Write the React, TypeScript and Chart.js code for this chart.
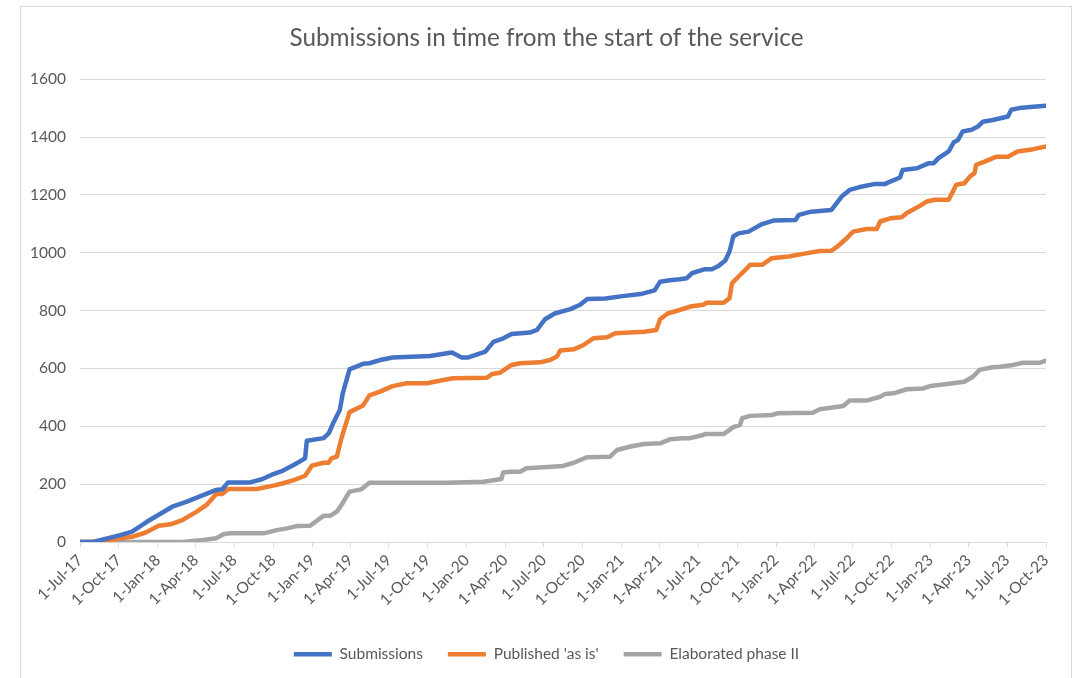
import React, { useEffect, useRef } from "react";
import { Chart, registerables } from "chart.js";

Chart.register(...registerables);

const titleText = "Submissions in time from the start of the service";

const tickLabels = [
  "1-Jul-17", "1-Oct-17", "1-Jan-18", "1-Apr-18", "1-Jul-18", "1-Oct-18", "1-Jan-19",
  "1-Apr-19", "1-Jul-19", "1-Oct-19", "1-Jan-20", "1-Apr-20", "1-Jul-20", "1-Oct-20",
  "1-Jan-21", "1-Apr-21", "1-Jul-21", "1-Oct-21", "1-Jan-22", "1-Apr-22", "1-Jul-22",
  "1-Oct-22", "1-Jan-23", "1-Apr-23", "1-Jul-23", "1-Oct-23",
];

const yTicks = [0, 200, 400, 600, 800, 1000, 1200, 1400, 1600];

const seriesNames = ["Submissions", "Published 'as is'", "Elaborated phase II"];

const submissionsDates = [
  "2017-07-01", "2017-08-01", "2017-10-04", "2017-11-01", "2017-12-06", "2018-02-04", "2018-03-09",
  "2018-05-19", "2018-06-02", "2018-06-16", "2018-08-07", "2018-09-04", "2018-10-01", "2018-10-24",
  "2018-11-18", "2018-12-15", "2018-12-19", "2019-01-28", "2019-02-09", "2019-02-21", "2019-03-07",
  "2019-03-14", "2019-03-30", "2019-05-01", "2019-05-16", "2019-06-10", "2019-07-10", "2019-10-06",
  "2019-11-27", "2019-12-20", "2020-01-05", "2020-02-14", "2020-03-04", "2020-03-23", "2020-04-16",
  "2020-05-29", "2020-06-15", "2020-07-04", "2020-07-27", "2020-09-02", "2020-09-25", "2020-10-12",
  "2020-11-24", "2021-01-03", "2021-02-15", "2021-03-20", "2021-04-02", "2021-04-25", "2021-05-18",
  "2021-06-04", "2021-06-16", "2021-07-17", "2021-08-02", "2021-08-18", "2021-09-03", "2021-09-13",
  "2021-09-22", "2021-10-04", "2021-10-28", "2021-11-29", "2021-12-26", "2022-02-16", "2022-02-24",
  "2022-03-25", "2022-05-12", "2022-06-05", "2022-06-24", "2022-07-18", "2022-08-23", "2022-09-16",
  "2022-09-28", "2022-10-21", "2022-10-27", "2022-11-30", "2022-12-27", "2023-01-08", "2023-01-20",
  "2023-02-13", "2023-02-25", "2023-03-07", "2023-03-18", "2023-04-08", "2023-04-23", "2023-05-05",
  "2023-05-28", "2023-07-03", "2023-07-11", "2023-07-30", "2023-09-01", "2023-10-01",
];
const submissionsValues = [
  0, 0, 24, 36, 70, 122, 139,
  180, 182, 206, 206, 217, 235, 247,
  266, 289, 350, 359, 376, 416, 456,
  514, 597, 616, 618, 629, 638, 643,
  655, 638, 638, 658, 692, 701, 719,
  724, 733, 770, 790, 805, 820, 840,
  842, 850, 857, 870, 900, 905, 908,
  912, 929, 943, 943, 954, 973, 1004,
  1056, 1067, 1073, 1099, 1111, 1113, 1131,
  1142, 1148, 1194, 1217, 1227, 1238, 1238,
  1246, 1260, 1286, 1292, 1309, 1309, 1327,
  1350, 1382, 1390, 1419, 1425, 1436, 1453,
  1459, 1471, 1494, 1500, 1505, 1508,
];

const publishedDates = [
  "2017-07-01", "2017-08-17", "2017-10-04", "2017-11-01", "2017-12-02", "2018-01-03", "2018-01-31",
  "2018-02-28", "2018-04-03", "2018-04-26", "2018-05-19", "2018-06-02", "2018-06-16", "2018-08-23",
  "2018-10-01", "2018-10-24", "2018-11-18", "2018-12-15", "2018-12-31", "2019-01-28", "2019-02-09",
  "2019-02-15", "2019-02-28", "2019-03-11", "2019-03-30", "2019-05-01", "2019-05-16", "2019-06-10",
  "2019-07-10", "2019-08-12", "2019-09-29", "2019-11-07", "2019-11-30", "2020-02-18", "2020-03-01",
  "2020-03-19", "2020-04-16", "2020-05-06", "2020-06-22", "2020-07-16", "2020-08-01", "2020-08-09",
  "2020-09-10", "2020-10-03", "2020-10-26", "2020-11-28", "2020-12-17", "2021-02-23", "2021-03-24",
  "2021-04-02", "2021-04-20", "2021-05-18", "2021-06-12", "2021-07-13", "2021-07-21", "2021-08-30",
  "2021-09-13", "2021-09-19", "2021-10-04", "2021-11-01", "2021-11-29", "2021-12-22", "2022-01-31",
  "2022-03-06", "2022-04-14", "2022-05-12", "2022-05-24", "2022-06-17", "2022-07-02", "2022-08-03",
  "2022-08-27", "2022-09-04", "2022-09-28", "2022-10-25", "2022-11-06", "2022-12-07", "2022-12-23",
  "2023-01-12", "2023-02-13", "2023-03-03", "2023-03-22", "2023-04-04", "2023-04-15", "2023-04-19",
  "2023-05-09", "2023-06-06", "2023-07-03", "2023-07-26", "2023-09-01", "2023-10-01",
];
const publishedValues = [
  0, 0, 13, 18, 32, 56, 61,
  76, 105, 128, 166, 166, 183, 183,
  195, 203, 214, 229, 264, 274, 274,
  289, 295, 359, 449, 472, 507, 520,
  539, 549, 549, 560, 566, 568, 581,
  585, 612, 618, 621, 629, 641, 662,
  666, 681, 704, 708, 722, 727, 733,
  770, 790, 802, 814, 820, 827, 827,
  843, 895, 917, 958, 958, 981, 987,
  996, 1006, 1007, 1019, 1050, 1073, 1082,
  1082, 1108, 1119, 1123, 1137, 1162, 1177,
  1183, 1183, 1235, 1240, 1263, 1275, 1304,
  1315, 1332, 1332, 1350, 1358, 1367,
];

const elaboratedDates = [
  "2017-07-01", "2018-03-01", "2018-04-18", "2018-05-19", "2018-06-05", "2018-06-20", "2018-09-08",
  "2018-10-09", "2018-11-02", "2018-11-25", "2018-12-27", "2019-01-28", "2019-02-13", "2019-02-28",
  "2019-03-11", "2019-03-30", "2019-04-27", "2019-05-16", "2019-11-15", "2020-02-10", "2020-03-23",
  "2020-03-27", "2020-04-12", "2020-05-06", "2020-05-21", "2020-06-30", "2020-08-16", "2020-09-10",
  "2020-10-11", "2020-12-05", "2020-12-21", "2021-01-22", "2021-02-23", "2021-04-02", "2021-04-25",
  "2021-05-26", "2021-06-12", "2021-07-13", "2021-07-17", "2021-08-30", "2021-09-22", "2021-10-08",
  "2021-10-13", "2021-11-01", "2021-12-22", "2022-01-04", "2022-03-29", "2022-04-14", "2022-06-09",
  "2022-06-24", "2022-08-03", "2022-09-04", "2022-09-16", "2022-10-05", "2022-11-06", "2022-12-15",
  "2022-12-31", "2023-02-09", "2023-03-22", "2023-04-12", "2023-04-27", "2023-05-28", "2023-06-14",
  "2023-07-15", "2023-08-08", "2023-09-17", "2023-10-01",
];
const elaboratedValues = [
  0, 0, 7, 13, 27, 30, 30,
  41, 47, 55, 56, 91, 91, 105,
  128, 174, 182, 205, 205, 208, 218,
  240, 243, 243, 255, 258, 263, 274,
  293, 295, 318, 330, 339, 341, 355,
  359, 359, 370, 373, 373, 397, 405,
  428, 436, 439, 445, 447, 459, 470,
  489, 489, 502, 512, 514, 528, 531,
  539, 546, 554, 572, 595, 604, 606,
  612, 620, 620, 627,
];

const seriesColors = ["#4472C4", "#ED7D31", "#A5A5A5"];

const MONTHS = ["Jan", "Feb", "Mar", "Apr", "May", "Jun", "Jul", "Aug", "Sep", "Oct", "Nov", "Dec"];
const START = Date.UTC(2017, 6, 1);
const isoToDay = (s: string) => {
  const [y, m, d] = s.split("-").map(Number);
  return (Date.UTC(y, m - 1, d) - START) / 86400000;
};
const labelToDay = (s: string) => {
  const [d, mon, yy] = s.split("-");
  return (Date.UTC(2000 + Number(yy), MONTHS.indexOf(mon), Number(d)) - START) / 86400000;
};
const toPoints = (dates: string[], values: number[]) =>
  dates.map((d, i) => ({ x: isoToDay(d), y: values[i] }));

const FONT = "Lato, 'Noto Sans', sans-serif";
const TEXT = "#595959";
const GRID = "#d9d9d9";

export default function App() {
  const ref = useRef<HTMLCanvasElement | null>(null);

  useEffect(() => {
    if (!ref.current) return;
    const seriesData = [
      toPoints(submissionsDates, submissionsValues),
      toPoints(publishedDates, publishedValues),
      toPoints(elaboratedDates, elaboratedValues),
    ];
    const tickDays = tickLabels.map(labelToDay);
    const chart = new Chart(ref.current, {
      type: "line",
      data: {
        datasets: seriesNames.map((name, i) => ({
          label: name,
          data: seriesData[i],
          borderColor: seriesColors[i],
          backgroundColor: seriesColors[i],
          borderWidth: 4.5,
          pointRadius: 0,
          tension: 0,
          borderJoinStyle: "round" as const,
          borderCapStyle: "round" as const,
          fill: false,
          yAxisID: "y",
        })),
      },
      options: {
        responsive: false,
        animation: false,
        devicePixelRatio: 1,
        parsing: false,
        layout: { padding: { left: 20, right: 6, top: 0, bottom: 6 } },
        plugins: {
          title: {
            display: true,
            text: titleText,
            color: TEXT,
            font: { family: FONT, size: 24.3, weight: "normal" },
            padding: { top: 24, bottom: 26 },
          },
          legend: {
            position: "bottom",
            labels: {
              color: TEXT,
              font: { family: FONT, size: 15.5 },
              usePointStyle: true,
              pointStyle: "line",
              pointStyleWidth: 38,
              padding: 25,
            },
          },
          tooltip: { enabled: false },
        },
        scales: {
          x: {
            type: "linear",
            min: tickDays[0],
            max: tickDays[tickDays.length - 1],
            afterBuildTicks: (scale: any) => {
              scale.ticks = tickDays.map((v) => ({ value: v }));
            },
            afterFit: (scale: any) => {
              scale.height = 79.5;
            },
            ticks: {
              autoSkip: false,
              maxRotation: 45,
              minRotation: 45,
              color: TEXT,
              font: { family: FONT, size: 15.5 },
              padding: 4,
              callback: (_v: any, i: number) => tickLabels[i],
            },
            grid: {
              drawOnChartArea: false,
              drawTicks: true,
              tickLength: 5,
              color: GRID,
            },
            border: { display: true, color: GRID, width: 1 },
          },
          y: {
            position: "left",
            min: yTicks[0],
            max: yTicks[yTicks.length - 1],
            afterBuildTicks: (scale: any) => {
              scale.ticks = yTicks.map((v) => ({ value: v }));
            },
            afterFit: (scale: any) => {
              scale.width = 60;
            },
            ticks: {
              color: TEXT,
              font: { family: FONT, size: 15.5 },
              padding: 14,
              callback: (v: any) => String(v),
            },
            grid: { color: GRID, drawTicks: false, lineWidth: 1 },
            border: { display: false },
          },
          spacer: {
            type: "linear",
            position: "right",
            display: true,
            min: 0,
            max: 1,
            afterFit: (scale: any) => {
              scale.width = 27;
            },
            ticks: { display: false },
            grid: { display: false, drawTicks: false },
            border: { display: false },
          },
        },
      },
    });
    return () => chart.destroy();
  }, []);

  return (
    <div style={{ position: "absolute", left: 0, top: 0, width: 1079, height: 678, background: "#fff", overflow: "hidden" }}>
      <div
        style={{
          position: "absolute",
          left: 20,
          top: 6,
          width: 1052,
          height: 700,
          border: `1px solid ${GRID}`,
          boxSizing: "border-box",
        }}
      />
      <canvas ref={ref} width={1079} height={678} style={{ position: "absolute", left: 0, top: 0 }} />
    </div>
  );
}
